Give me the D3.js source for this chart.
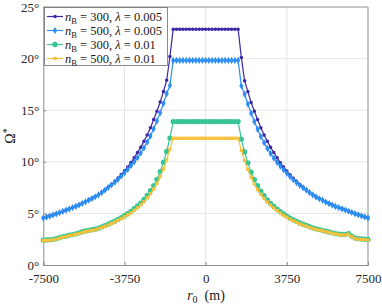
<!DOCTYPE html>
<html>
<head>
<meta charset="utf-8">
<script src="https://cdn.jsdelivr.net/npm/d3@7"></script>
<style>
  body { margin: 0; background: #fff; }
  svg { display: block; font-family: "Liberation Serif", "Times New Roman", serif; }
</style>
</head>
<body>
<div id="chart"></div>
<script>
// r0 grid (m), 150 m steps from -7500 to 7500
const r0Values = d3.range(-7500, 7501, 150);

const xTicks = [-7500, -3750, 0, 3750, 7500];
const yTicks = [0, 5, 10, 15, 20, 25];

// n_B = 300, lambda = 0.005
const omegaN300L005 = [
  4.58, 4.66, 4.76, 4.86, 4.97, 5.08, 5.2, 5.33, 5.45, 5.57,
  5.7, 5.84, 5.99, 6.15, 6.31, 6.47, 6.63, 6.82, 7.04, 7.29,
  7.55, 7.8, 8.1, 8.42, 8.76, 9.12, 9.5, 9.92, 10.4, 10.9,
  11.4, 12.0, 12.6, 13.3, 14.1, 14.9, 15.8, 16.8, 17.9, 20.2,
  22.85, 22.85, 22.85, 22.85, 22.85, 22.85, 22.85, 22.85, 22.85, 22.85,
  22.85, 22.85, 22.85, 22.85, 22.85, 22.85, 22.85, 22.85, 22.85, 22.85, 22.85,
  20.1, 17.85, 16.8, 15.75, 14.9, 14.1, 13.3, 12.6, 12.0, 11.4,
  10.9, 10.4, 9.9, 9.5, 9.1, 8.75, 8.4, 8.1, 7.8, 7.55,
  7.3, 7.05, 6.8, 6.62, 6.45, 6.3, 6.12, 5.97, 5.83, 5.7,
  5.58, 5.46, 5.35, 5.22, 5.1, 4.98, 4.87, 4.77, 4.67, 4.57
];

// n_B = 500, lambda = 0.005
const omegaN500L005 = [
  4.55, 4.64, 4.74, 4.85, 4.96, 5.07, 5.19, 5.32, 5.43, 5.55,
  5.68, 5.82, 5.97, 6.12, 6.28, 6.44, 6.61, 6.8, 7.02, 7.26,
  7.5, 7.75, 8.02, 8.3, 8.6, 8.92, 9.26, 9.62, 10.0, 10.4,
  10.85, 11.35, 11.9, 12.5, 13.2, 13.95, 14.75, 15.65, 16.6, 17.4,
  19.82, 19.82, 19.82, 19.82, 19.82, 19.82, 19.82, 19.82, 19.82, 19.82,
  19.82, 19.82, 19.82, 19.82, 19.82, 19.82, 19.82, 19.82, 19.82, 19.82, 19.82,
  17.35, 16.55, 15.6, 14.7, 13.9, 13.15, 12.45, 11.85, 11.3, 10.8,
  10.35, 9.95, 9.58, 9.22, 8.88, 8.56, 8.26, 7.98, 7.72, 7.48,
  7.25, 7.02, 6.8, 6.6, 6.42, 6.27, 6.1, 5.95, 5.81, 5.68,
  5.56, 5.44, 5.33, 5.21, 5.09, 4.97, 4.86, 4.76, 4.66, 4.56
];

// n_B = 300, lambda = 0.01
const omegaN300L01 = [
  2.42, 2.43, 2.45, 2.48, 2.55, 2.65, 2.75, 2.8, 2.9, 2.95,
  3.02, 3.12, 3.22, 3.3, 3.36, 3.42, 3.47, 3.58, 3.7, 3.82,
  3.95, 4.1, 4.25, 4.42, 4.6, 4.78, 4.98, 5.2, 5.45, 5.72,
  6.0, 6.35, 6.75, 7.2, 7.7, 8.3, 9.05, 9.95, 11.0, 12.3,
  13.9, 13.9, 13.9, 13.9, 13.9, 13.9, 13.9, 13.9, 13.9, 13.9,
  13.9, 13.9, 13.9, 13.9, 13.9, 13.9, 13.9, 13.9, 13.9, 13.9, 13.9,
  12.2, 10.95, 9.9, 9.0, 8.28, 7.68, 7.15, 6.72, 6.32, 5.98,
  5.68, 5.42, 5.18, 4.95, 4.74, 4.55, 4.38, 4.22, 4.08, 3.95,
  3.83, 3.71, 3.6, 3.51, 3.43, 3.36, 3.28, 3.2, 3.12, 3.05,
  3.0, 2.97, 2.97, 3.05, 2.8, 2.62, 2.55, 2.52, 2.5, 2.48
];

// n_B = 500, lambda = 0.01
const omegaN500L01 = [
  2.37, 2.38, 2.4, 2.43, 2.5, 2.6, 2.7, 2.75, 2.85, 2.9,
  2.97, 3.06, 3.16, 3.24, 3.3, 3.36, 3.41, 3.52, 3.63, 3.75,
  3.88, 4.02, 4.17, 4.33, 4.5, 4.67, 4.86, 5.06, 5.3, 5.55,
  5.82, 6.13, 6.5, 6.9, 7.35, 7.9, 8.55, 9.3, 10.2, 11.2,
  12.28, 12.28, 12.28, 12.28, 12.28, 12.28, 12.28, 12.28, 12.28, 12.28,
  12.28, 12.28, 12.28, 12.28, 12.28, 12.28, 12.28, 12.28, 12.28, 12.28, 12.28,
  11.1, 10.1, 9.25, 8.5, 7.85, 7.3, 6.85, 6.45, 6.1, 5.8,
  5.52, 5.27, 5.04, 4.83, 4.63, 4.45, 4.28, 4.13, 3.99, 3.87,
  3.76, 3.64, 3.53, 3.45, 3.38, 3.31, 3.23, 3.15, 3.07, 3.0,
  2.95, 2.92, 2.92, 2.98, 2.74, 2.57, 2.5, 2.47, 2.45, 2.43
];

const seriesNames = [
  { n: "300", lam: "0.005" },
  { n: "500", lam: "0.005" },
  { n: "300", lam: "0.01" },
  { n: "500", lam: "0.01" }
];
const seriesValues = [omegaN300L005, omegaN500L005, omegaN300L01, omegaN500L01];
const seriesColors = ["#3e26a8", "#2b8ef2", "#37c597", "#f9c13a"];
const seriesMarkers = [
  { type: d3.symbolCircle, size: 10 },
  { type: d3.symbolDiamond, size: 15 },
  { type: d3.symbolCircle, size: 22 },
  { type: d3.symbolSquare, size: 11 }
];

const width = 382, height = 306;
const plotLeft = 43.3, plotRight = 368, plotTop = 7, plotBottom = 265;

const svg = d3.select("#chart").append("svg")
  .attr("width", width)
  .attr("height", height);

const x = d3.scaleLinear().domain([-7500, 7500]).range([plotLeft, plotRight]);
const y = d3.scaleLinear().domain([0, 25]).range([plotBottom, plotTop]);

// grid
svg.append("g").selectAll("line")
  .data(xTicks.slice(1, -1)).enter().append("line")
  .attr("x1", d => x(d)).attr("x2", d => x(d))
  .attr("y1", plotTop).attr("y2", plotBottom)
  .attr("stroke", "#e6e6e6").attr("stroke-width", 1);
svg.append("g").selectAll("line")
  .data(yTicks.slice(1, -1)).enter().append("line")
  .attr("x1", plotLeft).attr("x2", plotRight)
  .attr("y1", d => y(d)).attr("y2", d => y(d))
  .attr("stroke", "#e6e6e6").attr("stroke-width", 1);

// axes
let xAxis = d3.axisBottom(x).tickValues(xTicks).tickSize(-3).tickPadding(9)
  .tickFormat(d => d < 0 ? "-" + Math.abs(d) : d);
let gx = svg.append("g").attr("transform", `translate(0, ${plotBottom})`).call(xAxis);
let yAxis = d3.axisLeft(y).tickValues(yTicks).tickSize(-3).tickPadding(4)
  .tickFormat(d => d + "°");
let gy = svg.append("g").attr("transform", `translate(${plotLeft}, 0)`).call(yAxis);
[gx, gy].forEach(g => {
  g.select(".domain").attr("stroke", "#8c8c8c");
  g.selectAll(".tick line").attr("stroke", "#8c8c8c");
  g.selectAll(".tick text")
    .attr("fill", "#262626")
    .style("font-family", "'Liberation Serif', 'Times New Roman', serif")
    .style("font-size", "13px");
});

// box top/right
svg.append("path")
  .attr("d", `M${plotLeft},${plotTop}H${plotRight}V${plotBottom}`)
  .attr("fill", "none").attr("stroke", "#8c8c8c");

// series
let line = d3.line().x((d, i) => x(r0Values[i])).y(d => y(d));
seriesValues.forEach((vals, k) => {
  let g = svg.append("g");
  g.append("path")
    .datum(vals)
    .attr("d", line)
    .attr("fill", "none")
    .attr("stroke", seriesColors[k])
    .attr("stroke-width", 1.2);
  g.selectAll("path.mk").data(vals).enter().append("path")
    .classed("mk", true)
    .attr("d", d3.symbol().type(seriesMarkers[k].type).size(seriesMarkers[k].size))
    .attr("transform", (d, i) => `translate(${x(r0Values[i])}, ${y(d)})`)
    .attr("fill", seriesColors[k])
    .attr("stroke", "none");
});

// legend
let legend = svg.append("g");
legend.append("rect")
  .attr("x", 44.5).attr("y", 7.5)
  .attr("width", 123).attr("height", 58)
  .attr("fill", "#fff").attr("stroke", "#6e6e6e").attr("stroke-width", 0.8);
seriesNames.forEach((s, k) => {
  let ly = 16.5 + k * 14;
  legend.append("line")
    .attr("x1", 47).attr("x2", 63).attr("y1", ly).attr("y2", ly)
    .attr("stroke", seriesColors[k]).attr("stroke-width", 1.2);
  legend.append("path")
    .attr("d", d3.symbol().type(seriesMarkers[k].type).size(seriesMarkers[k].size))
    .attr("transform", `translate(55, ${ly})`)
    .attr("fill", seriesColors[k]);
  let t = legend.append("text")
    .attr("x", 65).attr("y", ly + 4.5)
    .attr("fill", "#1a1a1a")
    .style("font-size", "12.5px");
  t.append("tspan").style("font-style", "italic").text("n");
  t.append("tspan").attr("dy", 3).style("font-size", "8.5px").text("B");
  t.append("tspan").attr("dy", -3).text(" = " + s.n + ", ");
  t.append("tspan").style("font-style", "italic").text("λ");
  t.append("tspan").text(" = " + s.lam);
});

// axis labels
let xl = svg.append("text")
  .attr("x", 206).attr("y", 300)
  .attr("text-anchor", "middle")
  .attr("fill", "#1a1a1a")
  .style("font-size", "14px");
xl.append("tspan").style("font-style", "italic").text("r");
xl.append("tspan").attr("dy", 3).style("font-size", "10px").text("0");
xl.append("tspan").attr("dy", -3).text("\u2002(m)");

let yl = svg.append("text")
  .attr("transform", `translate(15, 136) rotate(-90)`)
  .attr("text-anchor", "middle")
  .attr("fill", "#1a1a1a")
  .style("font-size", "14px");
yl.append("tspan").text("Ω");
yl.append("tspan").attr("dy", -5).style("font-size", "10px").text("*");
</script>
</body>
</html>
